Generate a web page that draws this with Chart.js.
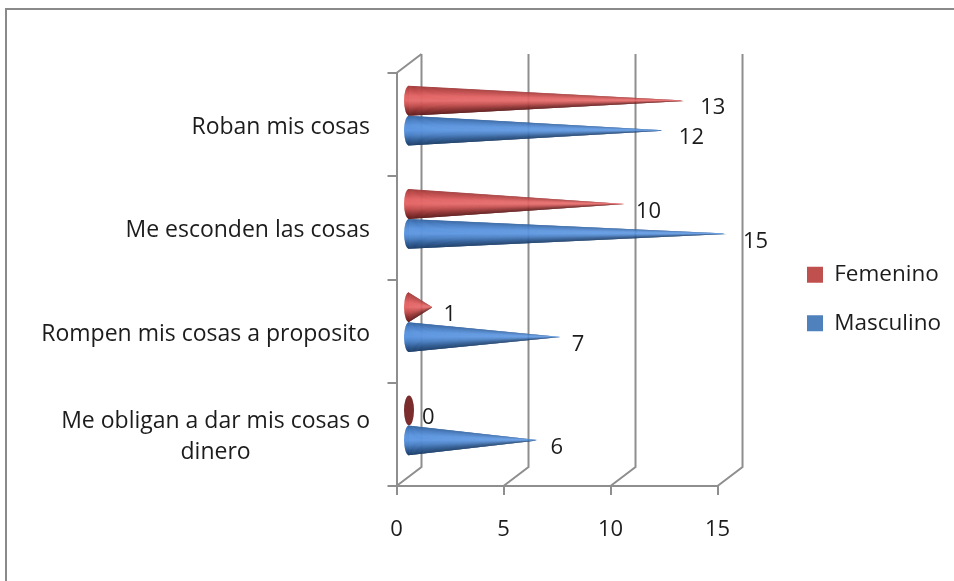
<!DOCTYPE html>
<html>
<head>
<meta charset="utf-8">
<title>Cosas</title>
<script src="https://cdn.jsdelivr.net/npm/chart.js@4"></script>
<style>
    html, body { margin: 0; padding: 0; background: #fff; }
    #wrap { width: 954px; height: 581px; }
</style>
</head>
<body>
<div id="wrap"><canvas id="cosasChart"></canvas></div>
<script>
const categories = [
    ["Roban mis cosas"],
    ["Me esconden las cosas"],
    ["Rompen mis cosas a proposito"],
    ["Me obligan a dar mis cosas o", "dinero"]
];
const femenino = [13, 10, 1, 0];
const masculino = [12, 15, 7, 6];
const xTicks = [0, 5, 10, 15];

const FONT = "Open Sans";
const LABEL_SIZE = 23;
const NUMBER_SIZE = 22;
const LEGEND_SIZE = 22.5;
const TEXT = "#1c1c1c";
const LINE = "#8e8e8e";
// depth of the fake 3D box
const DEPTH_X = 25;
const DEPTH_Y = -19;

// shading across a cone, top edge to bottom edge
const redRamp = ["#a23d3d", "#c54e4e", "#e26464", "#e56a6a", "#c44f4f", "#8f3232", "#5f1c1c"];
const blueRamp = ["#35649f", "#4a80c6", "#5c95de", "#5e97e0", "#4a7fc2", "#2f5b93", "#1d3f69"];

function hexToRgb(h) {
    return [1, 3, 5].map(i => parseInt(h.substr(i, 2), 16));
}

function rampColor(ramp, t) {
    const p = t * (ramp.length - 1);
    const i = Math.min(Math.floor(p), ramp.length - 2);
    const a = hexToRgb(ramp[i]), b = hexToRgb(ramp[i + 1]);
    const f = p - i;
    return "rgb(" + a.map((v, k) => Math.round(v + (b[k] - v) * f)).join(",") + ")";
}

function drawCone(ctx, bar, base, ramp, zeroColor) {
    const cx = base + DEPTH_X / 2;
    const cy = bar.y + DEPTH_Y / 2 + 0.5;
    const tip = bar.x + 14.5;
    const ry = bar.height / 2;
    const rx = 5;

    // value 0: only the round base is left
    if (bar.x - base < 1) {
        ctx.fillStyle = zeroColor;
        ctx.beginPath();
        ctx.ellipse(cx, cy, rx, ry, 0, 0, Math.PI * 2);
        ctx.fill();
        return;
    }

    const grad = ctx.createLinearGradient(0, cy - ry, 0, cy + ry);
    ramp.forEach((c, i) => grad.addColorStop(i / (ramp.length - 1), c));
    ctx.fillStyle = grad;
    ctx.beginPath();
    ctx.ellipse(cx, cy, rx, ry, 0, Math.PI / 2, Math.PI * 1.5);
    ctx.closePath();
    ctx.fill();

    // thin slices meeting at the tip so the shading narrows with the cone
    const slices = 60;
    for (let s = 0; s < slices; s++) {
        const t0 = s / slices, t1 = Math.min((s + 2) / slices, 1);
        ctx.fillStyle = rampColor(ramp, (s + 0.5) / slices);
        ctx.beginPath();
        ctx.moveTo(cx - 0.5, cy - ry + 2 * ry * t0);
        ctx.lineTo(tip, cy);
        ctx.lineTo(cx - 0.5, cy - ry + 2 * ry * t1);
        ctx.closePath();
        ctx.fill();
    }
}

const cono3d = {
    id: "cono3d",
    // back grid lines and the slanted joins to the front axis
    beforeDatasetsDraw(chart) {
        const { ctx, scales: { x, y } } = chart;
        ctx.save();
        ctx.strokeStyle = LINE;
        ctx.lineWidth = 2;
        xTicks.forEach(v => {
            const px = x.getPixelForValue(v);
            ctx.beginPath();
            ctx.moveTo(px, y.bottom);
            ctx.lineTo(px + DEPTH_X, y.bottom + DEPTH_Y);
            ctx.lineTo(px + DEPTH_X, y.top + DEPTH_Y);
            ctx.stroke();
        });
        const x0 = x.getPixelForValue(0);
        ctx.beginPath();
        ctx.moveTo(x0, y.top);
        ctx.lineTo(x0 + DEPTH_X, y.top + DEPTH_Y);
        ctx.stroke();
        ctx.restore();
    },
    // bars are replaced by cones below
    beforeDatasetDraw() {
        return false;
    },
    afterDatasetsDraw(chart) {
        const { ctx, scales: { x, y } } = chart;
        const base = x.getPixelForValue(0);
        const ramps = [redRamp, blueRamp];
        ctx.save();
        chart.data.datasets.forEach((ds, d) => {
            chart.getDatasetMeta(d).data.forEach(bar => {
                drawCone(ctx, bar, base, ramps[d], "#7b2c2c");
            });
        });

        // value next to each tip
        ctx.font = NUMBER_SIZE + "px '" + FONT + "'";
        ctx.fillStyle = TEXT;
        ctx.textAlign = "left";
        ctx.textBaseline = "middle";
        chart.data.datasets.forEach((ds, d) => {
            chart.getDatasetMeta(d).data.forEach((bar, i) => {
                ctx.fillText(ds.data[i], bar.x + DEPTH_X / 2 + 13, bar.y + DEPTH_Y / 2 + 8);
            });
        });

        // category names, wrapped ones centred on their own block
        ctx.font = LABEL_SIZE + "px '" + FONT + "'";
        categories.forEach((lines, i) => {
            const py = y.getPixelForValue(i) + 3;
            const widest = Math.max(...lines.map(l => ctx.measureText(l).width));
            const right = 370;
            lines.forEach((line, k) => {
                const ly = py + (k - (lines.length - 1) / 2) * 31;
                ctx.textAlign = "center";
                ctx.fillText(line, right - widest / 2, ly);
            });
        });
        ctx.restore();
    },
    // outer frame of the chart
    afterDraw(chart) {
        const { ctx } = chart;
        ctx.save();
        ctx.strokeStyle = "#8a8a8a";
        ctx.lineWidth = 2;
        ctx.beginPath();
        ctx.moveTo(6, chart.height);
        ctx.lineTo(6, 9);
        ctx.lineTo(chart.width, 9);
        ctx.stroke();
        ctx.restore();
    },
    // legend sits away from where the layout would put it
    afterLayout(chart) {
        const lg = chart.legend;
        const dx = 781 - lg.left;
        lg.left += dx;
        lg.right += dx;
        lg.top -= 28;
        lg.bottom -= 28;
    }
};

new Chart(document.getElementById("cosasChart"), {
    type: "bar",
    data: {
        labels: categories.map(c => c.join(" ")),
        datasets: [
            { label: "Femenino", data: femenino, backgroundColor: "#c0504d" },
            { label: "Masculino", data: masculino, backgroundColor: "#4f81bd" }
        ]
    },
    options: {
        indexAxis: "y",
        responsive: true,
        maintainAspectRatio: false,
        animation: false,
        layout: { padding: { top: 73, left: 0, right: 66.5, bottom: 0 } },
        categoryPercentage: 0.58,
        barPercentage: 1,
        scales: {
            x: {
                min: 0,
                max: 15,
                afterBuildTicks(scale) {
                    scale.ticks = xTicks.map(value => ({ value }));
                },
                afterFit(scale) { scale.height = 95; },
                border: { color: LINE, width: 2 },
                grid: { drawOnChartArea: false, color: LINE, lineWidth: 2, tickLength: 9 },
                ticks: { color: TEXT, padding: 22, maxRotation: 0, font: { family: FONT, size: NUMBER_SIZE } }
            },
            y: {
                afterFit(scale) { scale.width = 396.5; },
                border: { color: LINE, width: 2 },
                grid: { drawOnChartArea: false, color: LINE, lineWidth: 2, tickLength: 9 },
                ticks: { display: false }
            }
        },
        plugins: {
            tooltip: { enabled: false },
            legend: {
                position: "right",
                labels: {
                    boxWidth: 16,
                    boxHeight: 16,
                    padding: 26,
                    color: TEXT,
                    font: { family: FONT, size: LEGEND_SIZE }
                }
            }
        }
    },
    plugins: [cono3d]
});
</script>
</body>
</html>
